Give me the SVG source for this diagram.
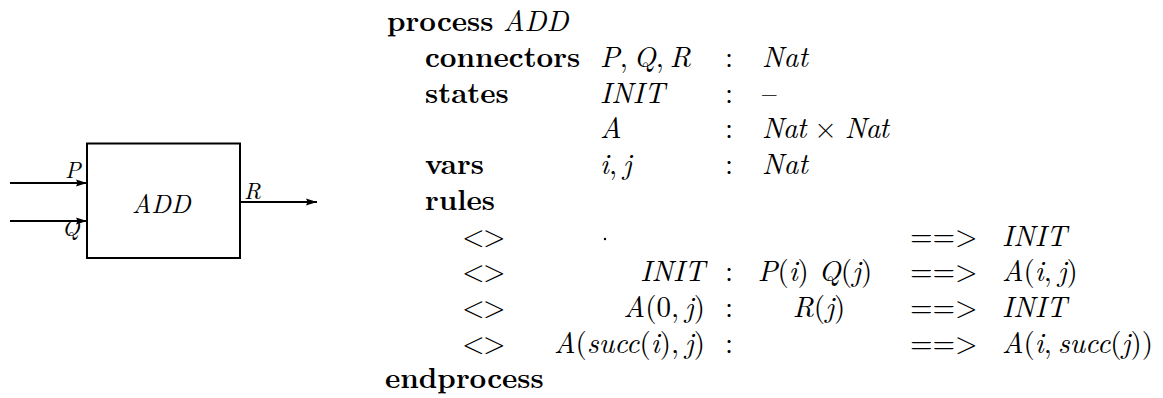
<svg xmlns="http://www.w3.org/2000/svg" width="1163" height="398" viewBox="0 0 1163 398" font-family="'Latin Modern Roman', 'Liberation Serif', serif" font-size="29">
  <style>
    text { font-size: 29px; fill: #000; font-variant-ligatures: none; }
    .kw { font-weight: bold; }
    .m { font-style: italic; }
    .u { font-style: normal; }
    .c { text-anchor: middle; }
    .r { text-anchor: end; }
    .wire { stroke: #000; stroke-width: 1.8; fill: none; }
    .box { stroke: #000; stroke-width: 2; fill: #fff; }
  </style>
  <defs>
    <marker id="head" viewBox="0 0 11 8" refX="11" refY="4" markerWidth="11" markerHeight="8" markerUnits="userSpaceOnUse" orient="auto">
      <path d="M0,0.5 L11,4 L0,7.5 L1.5,4 Z" fill="#000"/>
    </marker>
  </defs>

  <rect width="1163" height="398" fill="#fff"/>

  <!-- process block -->
  <g id="node-add" font-family="'Latin Modern Roman', 'Liberation Serif', serif">
    <rect class="box" x="87" y="143.5" width="153" height="114.5"/>
    <text class="m" x="132" y="213" style="font-size:26px">ADD</text>
  </g>

  <!-- ports and wires -->
  <g id="connectors" font-family="'Latin Modern Roman', 'Liberation Serif', serif">
    <line class="wire" x1="10" y1="183" x2="87" y2="183" marker-end="url(#head)"/>
    <line class="wire" x1="10" y1="221" x2="87" y2="221" marker-end="url(#head)"/>
    <line class="wire" x1="240" y1="202" x2="317" y2="202" marker-end="url(#head)"/>
    <text class="m" x="65" y="178" style="font-size:23px">P</text>
    <text class="m" x="62" y="236" style="font-size:23px">Q</text>
    <text class="m" x="244" y="199" style="font-size:23px">R</text>
  </g>

  <!-- textual definition; relation symbols are placed glyph by glyph -->
  <g id="spec" font-family="'Latin Modern Roman', 'Liberation Serif', serif">
    <text class="kw" x="387" y="31">process</text>
    <text class="m" x="503" y="31">ADD</text>

    <!-- declarations -->
    <text class="kw" x="425" y="67">connectors</text>
    <text class="m" x="600" y="67">P<tspan class="u">,&#8201;</tspan>Q<tspan class="u">,&#8201;</tspan>R</text>
    <text class="c" x="729" y="67">:</text>
    <text class="m" x="762" y="67">Nat</text>

    <text class="kw" x="425" y="102.7">states</text>
    <text class="m" x="600" y="102.7">INIT</text>
    <text class="c" x="729" y="102.7">:</text>
    <text x="762" y="102.7">–</text>

    <text class="m" x="600" y="138.4">A</text>
    <text class="c" x="729" y="138.4">:</text>
    <text class="m" x="762" y="138.4" textLength="127" lengthAdjust="spacing">Nat<tspan class="u"> × </tspan>Nat</text>

    <text class="kw" x="425" y="174">vars</text>
    <text class="m" x="600" y="174">i<tspan class="u">,&#8201;</tspan>j</text>
    <text class="c" x="729" y="174">:</text>
    <text class="m" x="762" y="174">Nat</text>

    <text class="kw" x="425" y="209.8">rules</text>

    <!-- rule 1 -->
    <text x="462 483" y="245.5">&lt;&gt;</text>
    <circle cx="605" cy="239" r="1.2" fill="#000"/>
    <text x="910 932.5 955" y="245.5">==&gt;</text>
    <text class="m" x="1002" y="245.5">INIT</text>

    <!-- rule 2 -->
    <text x="462 483" y="281">&lt;&gt;</text>
    <text class="m r" x="705" y="281">INIT</text>
    <text class="c" x="729" y="281">:</text>
    <text class="m c" x="815" y="281">P<tspan class="u">(</tspan>i<tspan class="u">) </tspan>Q<tspan class="u">(</tspan>j<tspan class="u">)</tspan></text>
    <text x="910 932.5 955" y="281">==&gt;</text>
    <text class="m" x="1002" y="281">A<tspan class="u">(</tspan>i<tspan class="u">,&#8201;</tspan>j<tspan class="u">)</tspan></text>

    <!-- rule 3 -->
    <text x="462 483" y="316.8">&lt;&gt;</text>
    <text class="m r" x="705" y="316.8">A<tspan class="u">(0,&#8201;</tspan>j<tspan class="u">)</tspan></text>
    <text class="c" x="729" y="316.8">:</text>
    <text class="m c" x="819" y="316.8">R<tspan class="u">(</tspan>j<tspan class="u">)</tspan></text>
    <text x="910 932.5 955" y="316.8">==&gt;</text>
    <text class="m" x="1002" y="316.8">INIT</text>

    <!-- rule 4 -->
    <text x="462 483" y="352.5">&lt;&gt;</text>
    <text class="m r" x="705" y="352.5">A<tspan class="u">(</tspan>succ<tspan class="u">(</tspan>i<tspan class="u">),&#8201;</tspan>j<tspan class="u">)</tspan></text>
    <text class="c" x="729" y="352.5">:</text>
    <text x="910 932.5 955" y="352.5">==&gt;</text>
    <text class="m" x="1002" y="352.5">A<tspan class="u">(</tspan>i<tspan class="u">,&#8201;</tspan>succ<tspan class="u">(</tspan>j<tspan class="u">))</tspan></text>

    <text class="kw" x="385" y="388">endprocess</text>
  </g>
</svg>
